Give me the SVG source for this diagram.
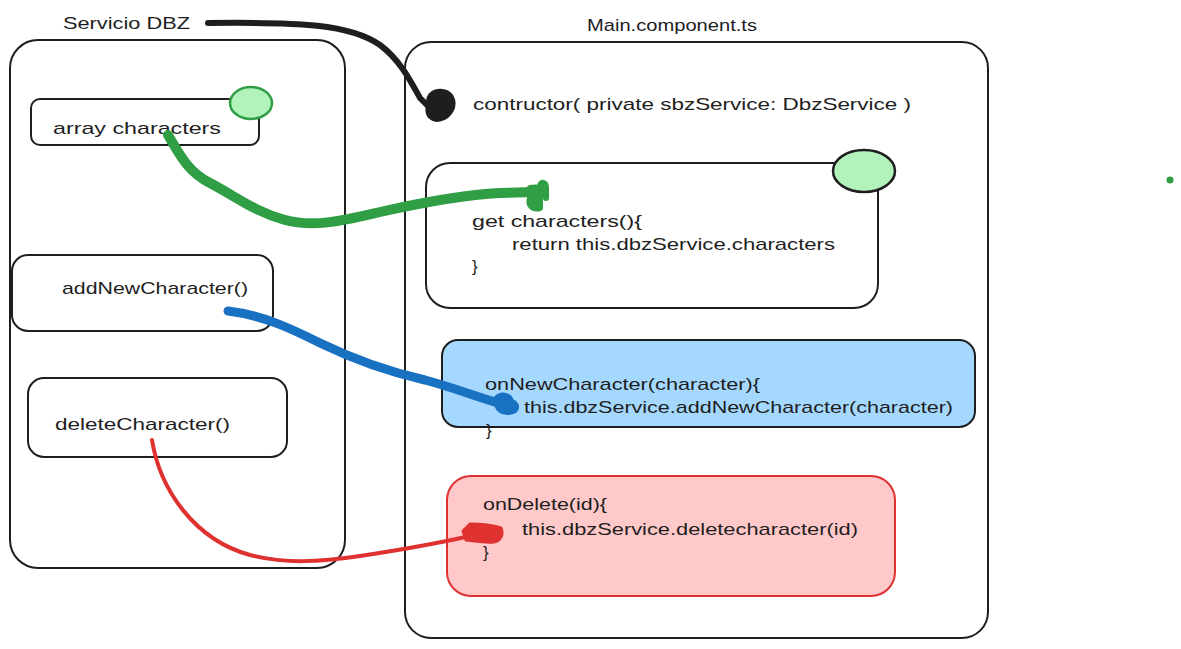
<svg xmlns="http://www.w3.org/2000/svg" width="1181" height="649" viewBox="0 0 1181 649">
<style>
.box{fill:none;stroke:#1e1e1e;stroke-width:2}
.t{font-family:"Liberation Sans",Arial,sans-serif;font-size:17px;fill:#1e1e1e}
.blob{stroke-linecap:round;stroke-linejoin:round;fill:none}
</style>
<rect width="1181" height="649" fill="#ffffff"/>
<g id="servicio-label"><text class="t" x="63" y="29" textLength="127" lengthAdjust="spacingAndGlyphs">Servicio DBZ</text></g>
<g id="main-label"><text class="t" x="587" y="31" textLength="170" lengthAdjust="spacingAndGlyphs">Main.component.ts</text></g>
<g id="servicio-dbz"><rect class="box" x="10" y="40" width="335" height="528" rx="28"/></g>
<g id="main-component"><rect class="box" x="405" y="42" width="583" height="596" rx="26"/></g>
<g id="array-characters">
<rect class="box" x="31" y="99" width="228" height="46" rx="9"/>
<text class="t" x="53" y="134" textLength="168" lengthAdjust="spacingAndGlyphs">array characters</text>
<ellipse cx="251" cy="103" rx="21" ry="16" fill="#b2f2bb" stroke="#2f9e44" stroke-width="2.5"/>
</g>
<g id="add-new-character">
<rect class="box" x="12" y="255" width="261" height="76" rx="16"/>
<text class="t" x="62" y="294" textLength="186" lengthAdjust="spacingAndGlyphs">addNewCharacter()</text>
</g>
<g id="delete-character">
<rect class="box" x="28" y="378" width="259" height="79" rx="16"/>
<text class="t" x="55" y="430" textLength="175" lengthAdjust="spacingAndGlyphs">deleteCharacter()</text>
</g>
<g id="constructor">
<text class="t" x="473" y="110" textLength="438" lengthAdjust="spacingAndGlyphs">contructor( private sbzService: DbzService )</text>
</g>
<g id="get-characters">
<rect class="box" x="426" y="163" width="452" height="145" rx="24"/>
<ellipse cx="864" cy="171" rx="31" ry="21" fill="#b2f2bb" stroke="#1e1e1e" stroke-width="2.5"/>
<text class="t" x="472" y="227" textLength="170" lengthAdjust="spacingAndGlyphs">get characters(){</text>
<text class="t" x="512" y="250" textLength="323" lengthAdjust="spacingAndGlyphs">return this.dbzService.characters</text>
<text class="t" x="472" y="272">}</text>
</g>
<g id="on-new-character">
<rect x="442" y="340" width="533" height="87" rx="16" fill="#a5d8ff" stroke="#1e1e1e" stroke-width="2"/>
<text class="t" x="485" y="390" textLength="275" lengthAdjust="spacingAndGlyphs">onNewCharacter(character){</text>
<text class="t" x="524" y="413" textLength="429" lengthAdjust="spacingAndGlyphs">this.dbzService.addNewCharacter(character)</text>
<text class="t" x="486" y="436">}</text>
</g>
<g id="on-delete">
<rect x="447" y="476" width="448" height="120" rx="24" fill="#ffc9c9" stroke="#e03131" stroke-width="2"/>
<text class="t" x="483" y="510" textLength="124" lengthAdjust="spacingAndGlyphs">onDelete(id){</text>
<text class="t" x="522" y="535" textLength="336" lengthAdjust="spacingAndGlyphs">this.dbzService.deletecharacter(id)</text>
<text class="t" x="483" y="558">}</text>
</g>
<g id="dot"><circle cx="1170" cy="180" r="3.5" fill="#2f9e44"/></g>
<g id="connectors">
<path class="blob" d="M208,23 C300,22 350,24 380,45 C400,60 410,80 420,98 L432,110" stroke="#1e1e1e" stroke-width="6"/>
<path d="M428,98 C432,88 446,88 452,96 C458,106 450,118 440,120 C432,122 426,116 427,108 Z" fill="#1e1e1e" stroke="#1e1e1e" stroke-width="3" stroke-linejoin="round"/>
<path class="blob" d="M168,135 C180,155 188,172 210,183 C235,196 255,212 285,220 C315,228 345,220 380,212 C420,203 460,195 500,193 L535,192" stroke="#2f9e44" stroke-width="10"/>
<path d="M530,188 C540,186 546,190 546,198 L546,188 C546,182 541,181 540,186 L540,208 C532,210 528,205 530,198 Z" fill="#2f9e44" stroke="#2f9e44" stroke-width="6" stroke-linejoin="round"/>
<path class="blob" d="M228,311 C262,315 290,328 320,343 C355,360 390,372 425,380 C455,388 480,398 505,405" stroke="#1971c2" stroke-width="9"/>
<path d="M495,398 C500,392 510,393 512,400 C520,404 519,412 511,413 C502,415 494,410 495,398 Z" fill="#1971c2" stroke="#1971c2" stroke-width="3" stroke-linejoin="round"/>
<path class="blob" d="M152,440 C160,490 195,540 250,555 C285,564 320,562 360,556 C400,550 430,545 470,536" stroke="#e03131" stroke-width="4"/>
<path d="M463,531 L470,524 C480,524 492,525 501,528 C504,535 500,541 494,542 C485,543 475,541 466,540 Z" fill="#e03131" stroke="#e03131" stroke-width="3" stroke-linejoin="round"/>
</g>
</svg>
